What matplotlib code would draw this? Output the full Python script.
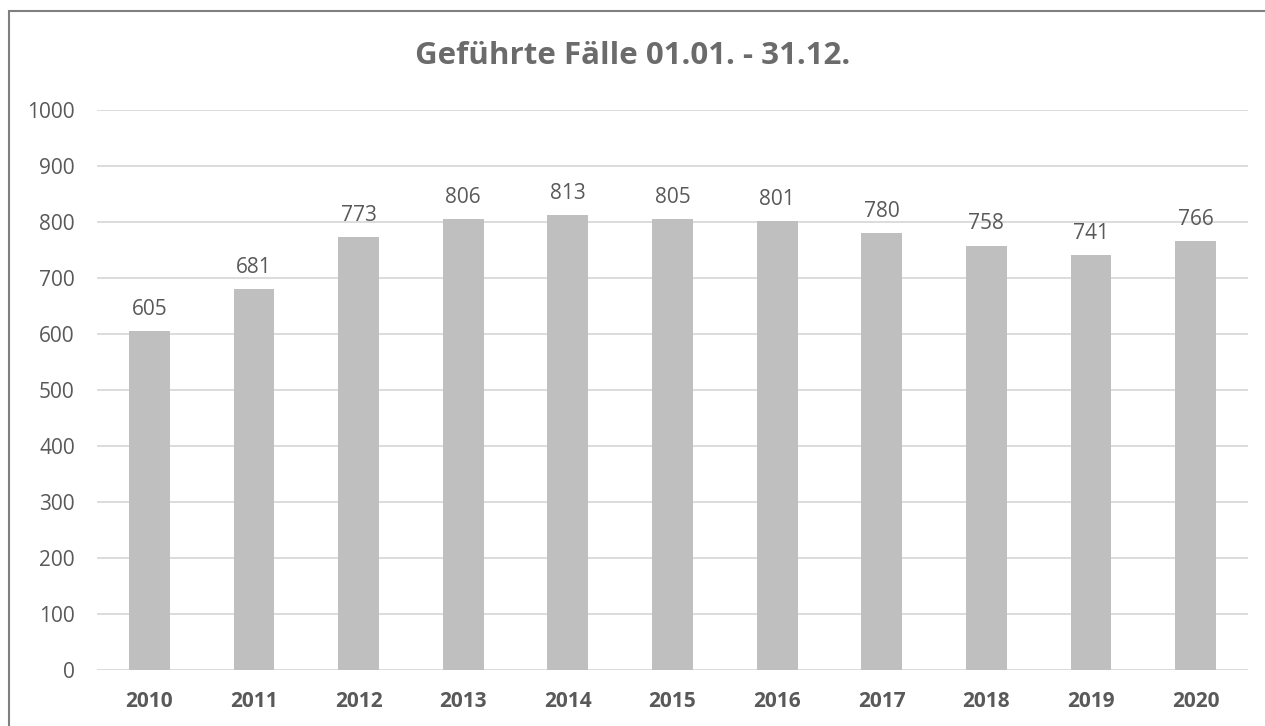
import matplotlib
matplotlib.use('Agg')
import matplotlib.pyplot as plt
from matplotlib.patches import Rectangle

# data
years = ['2010', '2011', '2012', '2013', '2014', '2015', '2016', '2017', '2018', '2019', '2020']
cases = [605, 681, 773, 806, 813, 805, 801, 780, 758, 741, 766]
y_ticks = [0, 100, 200, 300, 400, 500, 600, 700, 800, 900, 1000]
title = 'Geführte Fälle 01.01. - 31.12.'

text_col = '#595959'
title_col = '#6B6B6B'
bar_col = '#BFBFBF'
grid_col = '#D9D9D9'

plt.rcParams['font.family'] = ['Open Sans', 'DejaVu Sans']

fig = plt.figure(figsize=(12.65, 7.26), dpi=100)
ax = fig.add_axes([97/1265, 1 - 670/726, (1248 - 97)/1265, 560/726])

x = range(len(years))
ax.bar(x, cases, width=0.39, color=bar_col, zorder=2)

# value labels above the bars
for i, v in enumerate(cases):
    ax.annotate(str(v), (i, v), xytext=(0, 8), textcoords='offset points',
                ha='center', va='bottom', fontsize=15, color=text_col)

ax.set_xlim(-0.5, len(years) - 0.5)
ax.set_ylim(0, 1000)
ax.set_yticks(y_ticks)
ax.set_yticklabels([str(t) for t in y_ticks], fontsize=15, color=text_col)
ax.set_xticks(list(x))
ax.set_xticklabels(years, fontsize=15, fontweight='bold', color=text_col)
ax.tick_params(axis='both', length=0)
ax.tick_params(axis='y', pad=16)
ax.tick_params(axis='x', pad=15)

ax.yaxis.grid(True, color=grid_col, linewidth=1.3, zorder=0)
ax.set_axisbelow(True)
for s in ax.spines.values():
    s.set_visible(False)

fig.text(0.5, 1 - 56/726, title, ha='center', va='center', fontsize=22.5,
         fontweight='bold', color=title_col)

# outer frame, only top and left edges are in view
fig.patches.append(Rectangle((9/1265, -0.1), 1.2, 1 - 11/726 + 0.1,
                             transform=fig.transFigure, fill=False,
                             edgecolor='#7F7F7F', linewidth=1.5))

fig.savefig('out.png', dpi=100)
